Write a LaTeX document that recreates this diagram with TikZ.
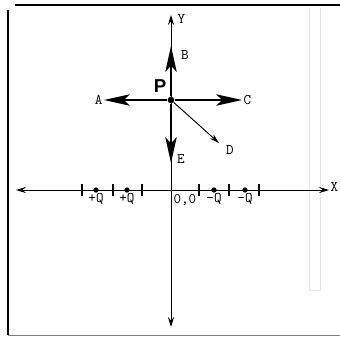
\documentclass[tikz,border=0pt]{standalone}
\usepackage{fontspec}
\newfontfamily\pfont{Liberation Sans}
\usetikzlibrary{arrows.meta}
\tikzset{
  lbl/.style={font=\ttfamily\fontsize{11}{13}\selectfont, inner sep=1pt},
  axis/.style={{Stealth[length=2.6mm,width=1.6mm]}-{Stealth[length=2.6mm,width=1.6mm]}, line width=0.7pt},
  force/.style={-{Stealth[length=6.8mm,width=3mm,inset=1.6mm]}, line width=1.5pt},
  probe/.style={-{Stealth[length=2.6mm,width=1.5mm]}, line width=0.7pt},
  tickmark/.style={line width=0.8pt},
  dot/.style={circle, fill, inner sep=0pt, minimum size=4pt},
  frame/.style={line width=1.5pt},
}
\begin{document}
\begin{tikzpicture}[x=0.75pt, y=-0.75pt]
  \useasboundingbox (0,0) rectangle (340,337);
  % page frame
  \draw[frame] (15,5) -- (340,5);
  \draw[frame] (8,10) -- (8,335);
  \draw[gray, line width=0.6pt] (8,335) -- (340,335);
  \draw[black!10, line width=0.6pt] (309,8) -- (309,290) -- (320,290) -- (320,8);
  % axes
  \coordinate (O) at (171,190);
  \coordinate (xl) at (16,190);
  \coordinate (xr) at (329,190);
  \coordinate (yt) at (171,15);
  \coordinate (yb) at (171,327);
  \draw[axis] (xl) -- (xr);
  \draw[axis] (yb) -- (yt);
  \node[lbl, anchor=west] (X) at (329,187) {X};
  \node[lbl, anchor=west] (Y) at (176,19) {Y};
  \node[lbl, anchor=north west] (orig) at (172,193) {0,0};
  % ticks and charges
  \foreach \x in {82,113,142,199,229,259}
    \draw[tickmark] (\x,184) -- (\x,196);
  \node[dot, label={[lbl, yshift=1pt]below:+Q}] (q1) at (96,190) {};
  \node[dot, label={[lbl, yshift=1pt]below:+Q}] (q2) at (127,190) {};
  \node[dot, label={[lbl, yshift=1pt]below:–Q}] (q3) at (214,190) {};
  \node[dot, label={[lbl, yshift=1pt]below:–Q}] (q4) at (245,190) {};
  % point P and the field directions
  \node[dot, minimum size=5pt] (P) at (171,100) {};
  \node[font=\pfont\bfseries\fontsize{14}{16}\selectfont] (Plbl) at (160,86) {P};
  \coordinate (b) at (171,46);
  \coordinate (e) at (171,163);
  \coordinate (d) at (219,143);
  \node[lbl, anchor=east] (A) at (104,100) {A};
  \node[lbl, anchor=west] (C) at (242,100) {C};
  \node[lbl] (B) at (185,55) {B};
  \node[lbl] (E) at (181,159) {E};
  \node[lbl] (D) at (230,150) {D};
  \draw[force] (P) -- (b);
  \draw[force] (P) -- (e);
  \draw[force] (P) -- (A);
  \draw[force] (P) -- (C);
  \draw[probe] (P) -- (d);
\end{tikzpicture}
\end{document}
